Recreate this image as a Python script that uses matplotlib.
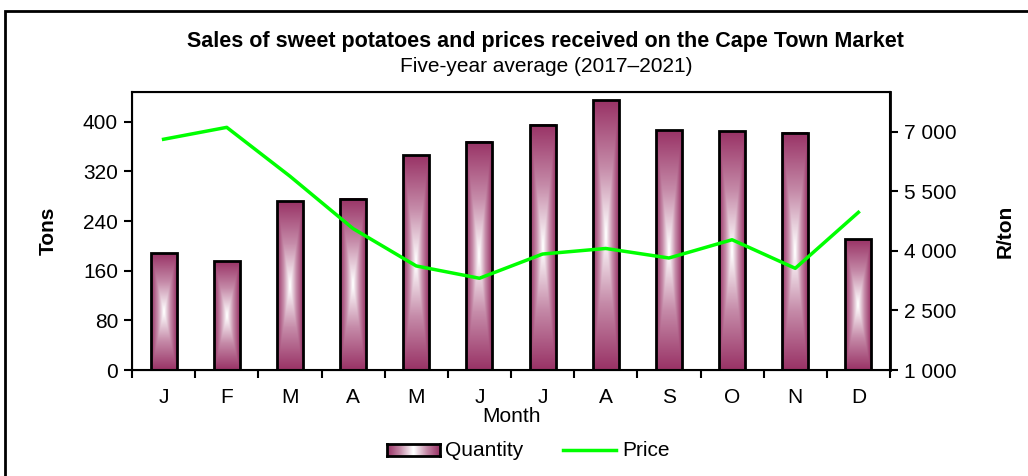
import numpy as np
import matplotlib
matplotlib.use("Agg")
import matplotlib.pyplot as plt
from matplotlib.colors import LinearSegmentedColormap
from matplotlib.patches import Rectangle
from matplotlib.ticker import FuncFormatter

plt.rcParams['font.family'] = ['Liberation Sans', 'DejaVu Sans']

months = ["J", "F", "M", "A", "M", "J", "J", "A", "S", "O", "N", "D"]
quantity = [188, 175, 272, 276, 346, 368, 395, 435, 386, 385, 382, 211]
price = [6810, 7110, 5880, 4560, 3620, 3310, 3920, 4060, 3820, 4280, 3560, 4970]

plum = "#993366"
grad_cmap = LinearSegmentedColormap.from_list("plum", ["white", "#c58aa8", plum])
fs = 15

W, H = 1028, 476
fig = plt.figure(figsize=(W / 100, H / 100), dpi=100)

# outer frame (runs off the right and bottom edge)
fig.patches.append(Rectangle((5 / W, -0.1), 1.2, 1 - 11 / H + 0.1, transform=fig.transFigure,
                             fill=False, edgecolor="black", linewidth=2, clip_on=False))

ax = fig.add_axes([132 / W, 1 - 370 / H, (890 - 132) / W, (370 - 92) / H])
x = np.arange(len(months))
bar_w = 0.41

# gradient from centre, drawn per bar
u = np.linspace(-1, 1, 60)
v = np.linspace(-1, 1, 200)
U, V = np.meshgrid(u, v)
grad = np.maximum(np.abs(U), np.abs(V))
for xi, q in zip(x, quantity):
    ax.imshow(grad, cmap=grad_cmap, extent=[xi - bar_w / 2, xi + bar_w / 2, 0, q],
              aspect="auto", origin="lower", zorder=1, interpolation="bilinear")
ax.bar(x, quantity, width=bar_w, facecolor="none", edgecolor="black", linewidth=2, zorder=2)

ax.set_xlim(-0.5, 11.5)
ax.set_ylim(0, 448)
ax.set_yticks(np.arange(0, 401, 80))
ax.set_xticks(np.arange(-0.5, 12, 1))
ax.set_xticklabels([])
ax.set_xticks(x, minor=True)
ax.set_xticklabels(months, minor=True)
ax.tick_params(axis="x", which="minor", length=0, pad=13, labelsize=fs)
ax.tick_params(axis="x", which="major", length=6, width=1.5, direction="out")
ax.tick_params(axis="y", length=6, width=1.5, labelsize=fs, pad=4)
for s in ax.spines.values():
    s.set_linewidth(1.5)
ax.set_ylabel("Tons", fontsize=fs, fontweight="bold", labelpad=18)
ax.set_xlabel("Month", fontsize=fs, labelpad=0)

ax2 = ax.twinx()
ax2.plot(x, price, color="#00ff00", linewidth=2.5)
ax2.set_ylim(1000, 8000)
ax2.set_yticks(np.arange(1000, 7001, 1500))
ax2.yaxis.set_major_formatter(FuncFormatter(lambda val, p: f"{int(val):,}".replace(",", " ")))
ax2.tick_params(axis="y", length=6, width=1.5, labelsize=fs, pad=4)
ax2.spines["right"].set_linewidth(2)
ax2.set_ylabel("R/ton", fontsize=fs, fontweight="bold", labelpad=28)

fig.text(545 / W, 1 - 41 / H, "Sales of sweet potatoes and prices received on the Cape Town Market",
         ha="center", va="center", fontsize=15.5, fontweight="bold")
fig.text(546 / W, 1 - 67 / H, "Five-year average (2017\u20132021)", ha="center", va="center", fontsize=fs)

# legend
lg = fig.add_axes([387 / W, 1 - 456 / H, 53 / W, 12 / H])
lg.imshow(np.abs(np.linspace(-1, 1, 60))[None, :], cmap=grad_cmap, aspect="auto",
          extent=[0, 1, 0, 1], interpolation="bilinear")
lg.set_xticks([])
lg.set_yticks([])
for s in lg.spines.values():
    s.set_linewidth(2)
fig.text(445 / W, 1 - 450 / H, "Quantity", ha="left", va="center", fontsize=fs)
fig.add_artist(plt.Line2D([563 / W, 616 / W], [1 - 450 / H, 1 - 450 / H], color="#00ff00",
                          linewidth=2.5, transform=fig.transFigure))
fig.text(622 / W, 1 - 450 / H, "Price", ha="left", va="center", fontsize=fs)

fig.savefig("out.png", dpi=100)
